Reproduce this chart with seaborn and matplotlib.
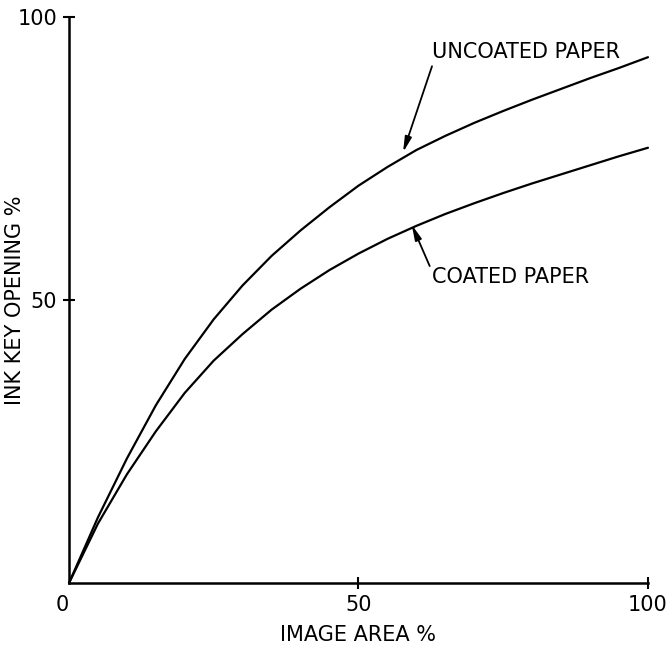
import pandas as pd
import seaborn as sns
import matplotlib
matplotlib.use('Agg')
import matplotlib.pyplot as plt

# --- Data ---
image_area = [0, 5, 10, 15, 20, 25, 30, 35, 40, 45, 50, 55, 60, 65, 70, 75, 80, 85, 90, 95, 100]
uncoated = [0, 11.6, 22.0, 31.4, 39.6, 46.6, 52.6, 57.8, 62.3, 66.4, 70.2, 73.5, 76.5, 79.0, 81.3, 83.4, 85.4, 87.3, 89.2, 91.0, 92.9]
coated = [0, 10.5, 19.2, 26.8, 33.6, 39.3, 44.0, 48.3, 52.0, 55.3, 58.2, 60.8, 63.1, 65.2, 67.1, 68.9, 70.6, 72.2, 73.8, 75.4, 76.9]

x_ticks = [0, 50, 100]
y_ticks = [50, 100]

FONT = ['DejaVu Sans']
FS = 15

sns.set_style('ticks')
plt.rcParams['font.family'] = FONT
for k in ['text.color', 'axes.labelcolor', 'xtick.color', 'ytick.color', 'axes.edgecolor']:
    plt.rcParams[k] = 'black'

df = pd.DataFrame({'area': image_area, 'UNCOATED PAPER': uncoated, 'COATED PAPER': coated})
df = df.melt(id_vars='area', var_name='paper', value_name='opening')

fig = plt.figure(figsize=(6.68, 6.47), dpi=100)
ax = fig.add_axes([0.1033, 0.0989, 0.8667, 0.8748])

sns.lineplot(data=df, x='area', y='opening', hue='paper', palette=['black', 'black'],
             linewidth=1.6, legend=False, ax=ax, clip_on=False)

ax.set_xlim(0, 100)
ax.set_ylim(0, 100)
sns.despine(ax=ax)
for s in ['left', 'bottom']:
    ax.spines[s].set_linewidth(1.8)

ax.set_xticks(x_ticks)
ax.set_xticklabels([str(t) for t in x_ticks])
ax.set_yticks(y_ticks)
ax.set_yticklabels([str(t) for t in y_ticks])
ax.tick_params(direction='inout', length=9, width=1.5, labelsize=FS, pad=4)
ax.xaxis.get_major_ticks()[0].tick1line.set_visible(False)
ax.get_xticklabels()[0].set_ha('right')

ax.set_xlabel('IMAGE AREA %', fontsize=FS, va='center')
ax.set_ylabel('INK KEY OPENING %', fontsize=FS, va='center')
ax.xaxis.set_label_coords(0.5, -0.092)
ax.yaxis.set_label_coords(-0.093, 0.5)

arrow = dict(arrowstyle='-|>,head_length=0.9,head_width=0.2', color='black',
             lw=1.3, shrinkA=0, shrinkB=0, mutation_scale=10)
ax.text(62.7, 93.8, 'UNCOATED PAPER', fontsize=FS, ha='left', va='center')
ax.annotate('', xy=(57.7, 76.1), xytext=(62.7, 91.3), arrowprops=arrow)
ax.text(62.7, 54.1, 'COATED PAPER', fontsize=FS, ha='left', va='center')
ax.annotate('', xy=(59.2, 63.3), xytext=(62.3, 56.0), arrowprops=arrow)

fig.savefig('out.png', dpi=100)
